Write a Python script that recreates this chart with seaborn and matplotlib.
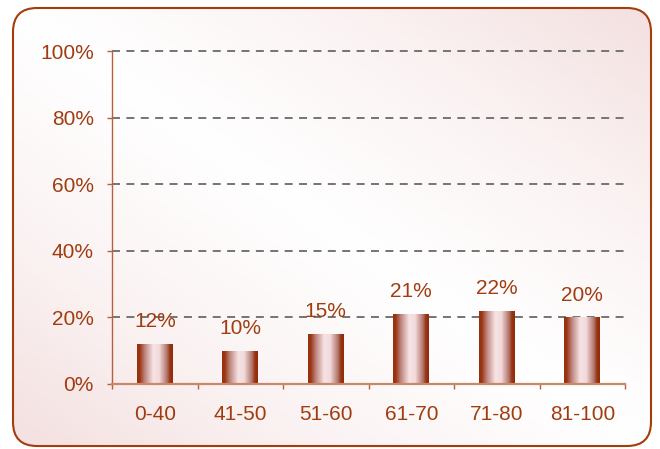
import numpy as np
import matplotlib
matplotlib.use('Agg')
import matplotlib.pyplot as plt
import matplotlib.ticker as mtick
from matplotlib.patches import FancyBboxPatch
from matplotlib.colors import LinearSegmentedColormap
import seaborn as sns

# data
score_bands = ['0-40', '41-50', '51-60', '61-70', '71-80', '81-100']
share = [0.12, 0.10, 0.15, 0.21, 0.22, 0.20]
share_labels = ['12%', '10%', '15%', '21%', '22%', '20%']

brown = '#A03C10'
spine_col = '#B8603A'

sns.set_theme(style='white')
plt.rcParams['font.family'] = ['Liberation Sans', 'DejaVu Sans']

fig = plt.figure(figsize=(6.6, 4.49), dpi=100)
fig.patch.set_facecolor('white')

# rounded frame with a diagonal pink -> white -> pink wash
bg = fig.add_axes([0, 0, 1, 1], zorder=0)
bg.set_xlim(0, 660)
bg.set_ylim(449, 0)
bg.axis('off')
frame = FancyBboxPatch((13, 8), 638, 438, boxstyle='round,pad=0,rounding_size=24',
                       facecolor='none', edgecolor='#A43C0C', lw=1.5, zorder=3)
bg.add_patch(frame)
xx, yy = np.meshgrid(np.linspace(0, 1, 300), np.linspace(0, 1, 300))
wash = np.abs(xx - yy)
bg_cmap = LinearSegmentedColormap.from_list('wash', ['#FFFFFF', '#FBF3F3', '#F4E0E0'])
img = bg.imshow(wash, cmap=bg_cmap, extent=(13, 651, 446, 8), aspect='auto', zorder=1)
img.set_clip_path(frame)

ax = fig.add_axes([0.1697, 0.1448, 0.7773, 0.7416], zorder=2)
ax.patch.set_alpha(0)

sns.barplot(x=score_bands, y=share, ax=ax, width=0.42, color=brown, zorder=2)

# cylinder-ish shading on each bar
bar_cmap = LinearSegmentedColormap.from_list('bar', [
    (0.0, '#96300F'), (0.07, '#9A3414'), (0.22, '#C08880'), (0.45, '#F6E2E4'),
    (0.62, '#F2DADC'), (0.84, '#B07468'), (0.92, '#9A3414'), (1.0, '#8E2C0C')])
grad = np.linspace(0, 1, 100).reshape(1, -1)
for p in ax.patches:
    x0, y0 = p.get_x(), p.get_y()
    w, h = p.get_width(), p.get_height()
    p.set_facecolor('none')
    p.set_edgecolor('none')
    im = ax.imshow(grad, cmap=bar_cmap, extent=(x0, x0 + w, y0, y0 + h),
                   aspect='auto', zorder=2.5)
    im.set_clip_path(p)

for i, (v, lbl) in enumerate(zip(share, share_labels)):
    ax.annotate(lbl, (i, v), xytext=(0, 12), textcoords='offset points',
                ha='center', va='baseline', fontsize=15, color=brown, zorder=4)

ax.set_xlim(-0.5, 5.5)
ax.set_ylim(0, 1)
ax.set_yticks(np.arange(0, 1.01, 0.2))
ax.yaxis.set_major_formatter(mtick.PercentFormatter(xmax=1.0, decimals=0))
ax.set_axisbelow(True)
ax.yaxis.grid(True, ls=(0, (4.1, 3.3)), color='#747474', lw=1.4)
ax.xaxis.grid(False)
# top gridline sits on the axes edge, don't let it get clipped in half
for gl in ax.get_ygridlines():
    gl.set_clip_on(False)

for s in ['top', 'right']:
    ax.spines[s].set_visible(False)
ax.spines['left'].set_color(spine_col)
ax.spines['left'].set_linewidth(1.0)
ax.spines['bottom'].set_color('#C8886A')
ax.spines['bottom'].set_linewidth(1.6)

ax.tick_params(axis='y', direction='out', length=3.6, width=1, color=spine_col,
               pad=9.4, labelsize=15, labelcolor=brown, left=True)
ax.set_xticks(range(len(score_bands)))
ax.set_xticklabels(score_bands)
ax.set_xticks(np.arange(-0.5, 5.6, 1), minor=True)
ax.tick_params(axis='x', which='major', length=0, pad=15, labelsize=15, labelcolor=brown)
ax.tick_params(axis='x', which='minor', direction='out', length=3.6, width=1,
               color=spine_col, bottom=True)
ax.set_xlabel('')
ax.set_ylabel('')

fig.savefig('out.png', dpi=100)
